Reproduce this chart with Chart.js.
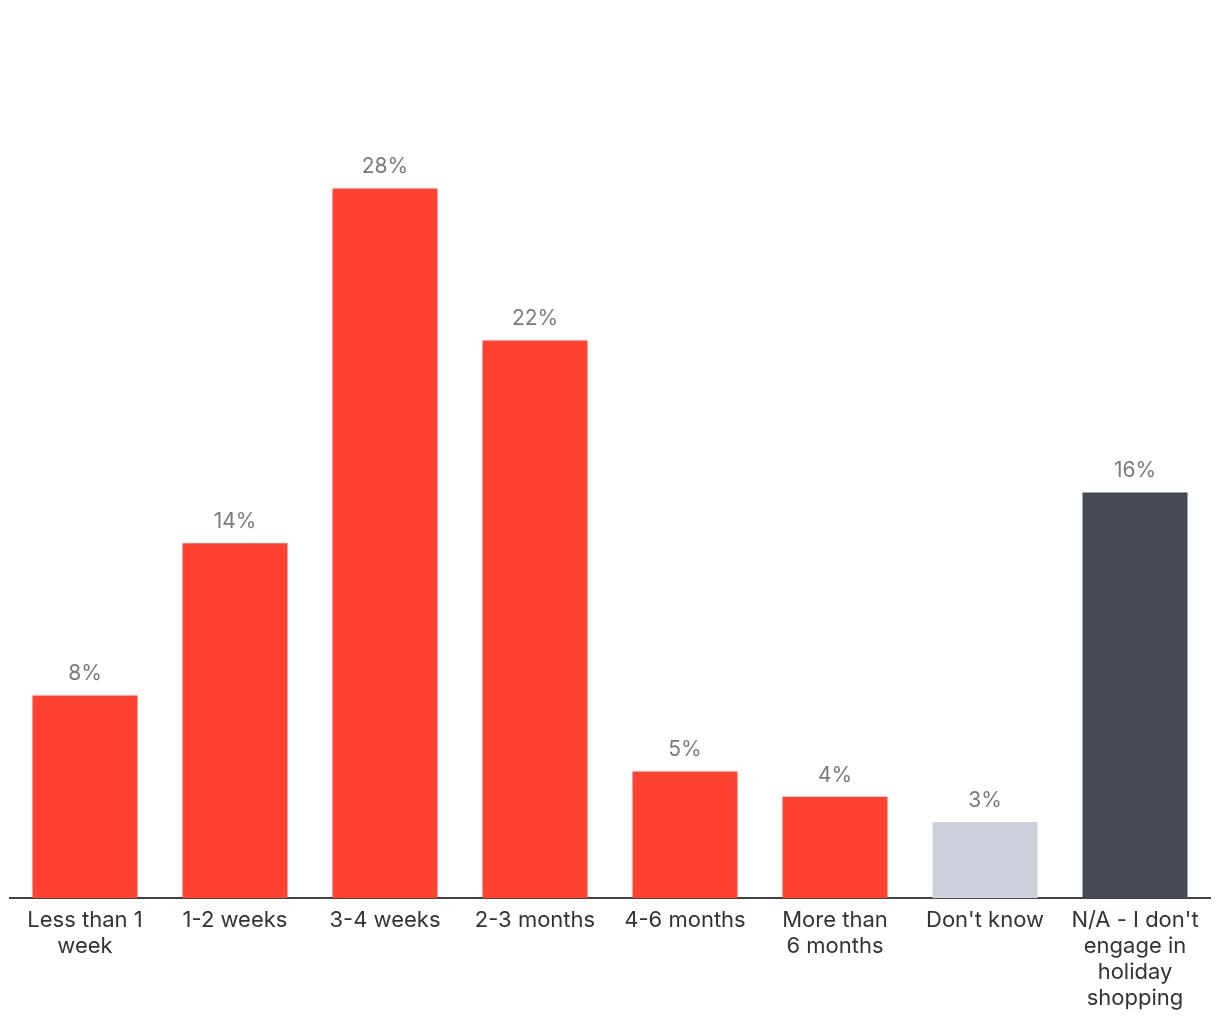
<!DOCTYPE html>
<html>
<head>
<meta charset="utf-8">
<script src="https://cdn.jsdelivr.net/npm/chart.js@4/dist/chart.umd.min.js"></script>
<style>
  html, body { margin: 0; padding: 0; background: #ffffff; }
  #wrap { width: 1220px; height: 1020px; position: relative; }
</style>
</head>
<body>
<div id="wrap"><canvas id="c" width="1220" height="1020"></canvas></div>
<script>
const categories = [
  ["Less than 1", "week"],
  "1-2 weeks",
  "3-4 weeks",
  "2-3 months",
  "4-6 months",
  ["More than", "6 months"],
  "Don't know",
  ["N/A - I don't", "engage in", "holiday", "shopping"]
];
const values = [8, 14, 28, 22, 5, 4, 3, 16];
const barColors = ["#FF4130", "#FF4130", "#FF4130", "#FF4130", "#FF4130", "#FF4130", "#CDD1DC", "#464A52"];

const FONT = "Inter, 'Noto Sans', sans-serif";

const valueLabels = {
  id: 'valueLabels',
  afterDatasetsDraw(chart) {
    const ctx = chart.ctx;
    const meta = chart.getDatasetMeta(0);
    ctx.save();
    ctx.font = "21px " + FONT;
    ctx.fillStyle = "#7a7a7a";
    ctx.textAlign = "center";
    ctx.textBaseline = "bottom";
    meta.data.forEach((bar, i) => {
      ctx.fillText(values[i] + "%", bar.x, bar.y - 11);
    });
    ctx.restore();
  }
};

new Chart(document.getElementById('c'), {
  type: 'bar',
  data: {
    labels: categories,
    datasets: [{
      data: values,
      backgroundColor: barColors,
      borderWidth: 0,
      categoryPercentage: 0.7,
      barPercentage: 1.0
    }]
  },
  options: {
    responsive: false,
    animation: false,
    devicePixelRatio: 1,
    layout: { padding: { top: 11, left: 10, right: 10, bottom: 0 } },
    plugins: { legend: { display: false }, tooltip: { enabled: false } },
    scales: {
      y: {
        display: false,
        min: 0,
        max: 35
      },
      x: {
        grid: { display: false, drawTicks: false },
        border: { display: true, color: "#444444", width: 2 },
        ticks: {
          color: "#333333",
          font: { family: FONT, size: 22, lineHeight: 1.18 },
          padding: 9,
          maxRotation: 0,
          autoSkip: false
        }
      }
    }
  },
  plugins: [valueLabels]
});
</script>
</body>
</html>
